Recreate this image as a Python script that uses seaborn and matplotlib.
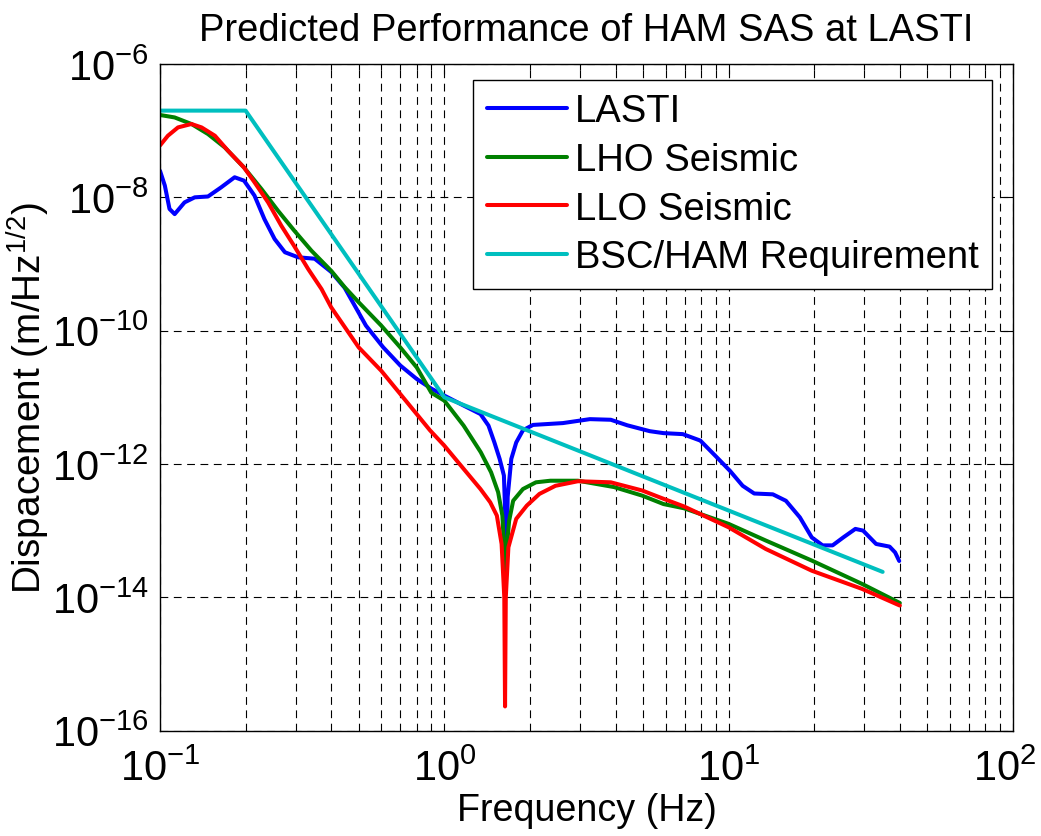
import matplotlib
matplotlib.use("Agg")
import matplotlib.pyplot as plt
from matplotlib import font_manager
from matplotlib.ticker import LogLocator, NullLocator, NullFormatter, FixedLocator
from matplotlib.transforms import ScaledTranslation
import seaborn as sns
import pandas as pd

# ---------------- data ----------------
lasti_f = [0.1, 0.104, 0.108, 0.1126, 0.122, 0.1325, 0.1475, 0.164, 0.183, 0.1975,
           0.215, 0.233, 0.253, 0.275, 0.306, 0.35, 0.4, 0.446, 0.53, 0.61, 0.7, 0.8,
           0.9, 1.0, 1.17, 1.34, 1.43, 1.5, 1.565, 1.62, 1.645, 1.65, 1.655, 1.66, 1.67,
           1.72, 1.79, 1.89, 2.05, 2.61, 3.25, 3.85, 4.4, 5.28, 5.9, 6.9, 7.95, 9.08,
           10.1, 11.2, 12.3, 14.3, 15.9, 17.8, 19.6, 21.4, 23.2, 25.3, 27.9, 29.7, 33,
           36.8, 38.5, 39.8]
lasti_d = [2.5e-8, 1.5e-8, 6.7e-9, 5.6e-9, 8.4e-9, 1.0e-8, 1.03e-8, 1.41e-8, 2.0e-8, 1.78e-8,
           1.06e-8, 4.7e-9, 2.37e-9, 1.5e-9, 1.26e-9, 1.2e-9, 7.6e-10, 4.4e-10, 1.19e-10, 5.6e-11,
           3.0e-11, 1.88e-11, 1.35e-11, 1.06e-11, 7.5e-12, 5.6e-12, 3.76e-12, 2.1e-12, 1.19e-12,
           6.7e-13, 1.0e-13, 4.5e-14, 2.5e-13, 5.0e-14, 3.2e-13, 1.19e-12, 2.1e-12, 3.2e-12,
           3.85e-12, 4.1e-12, 4.7e-12, 4.6e-12, 3.8e-12, 3.1e-12, 2.9e-12, 2.8e-12, 2.24e-12,
           1.26e-12, 7.9e-13, 4.7e-13, 3.6e-13, 3.5e-13, 2.8e-13, 1.58e-13, 7.9e-14, 6.0e-14,
           6.0e-14, 7.9e-14, 1.06e-13, 1.0e-13, 6.3e-14, 5.75e-14, 4.7e-14, 3.5e-14]

lho_f = [0.1, 0.1126, 0.129, 0.1475, 0.169, 0.1975, 0.2275, 0.26, 0.296, 0.341, 0.4, 0.446,
         0.5, 0.6, 0.7, 0.8, 0.9, 1.0, 1.169, 1.343, 1.46, 1.546, 1.6, 1.625, 1.64, 1.655,
         1.69, 1.746, 1.89, 2.1, 2.36, 2.95, 3.95, 4.96, 5.9, 6.97, 10, 13.5, 19.6, 29.5, 40]
lho_d = [1.72e-7, 1.58e-7, 1.26e-7, 8.9e-8, 5.6e-8, 2.8e-8, 1.33e-8, 6.3e-9, 3.2e-9, 1.58e-9,
         7.9e-10, 4.5e-10, 2.66e-10, 1.19e-10, 5.6e-11, 2.8e-11, 1.17e-11, 8.9e-12, 3.76e-12,
         1.5e-12, 7.5e-13, 3.76e-13, 1.68e-13, 5.0e-14, 1.26e-14, 5.0e-14, 1.4e-13, 2.8e-13,
         4.2e-13, 5.3e-13, 5.6e-13, 5.6e-13, 4.5e-13, 3.35e-13, 2.5e-13, 2.16e-13, 1.26e-13,
         7.1e-14, 3.55e-14, 1.58e-14, 8.2e-15]

llo_f = [0.1, 0.1066, 0.1157, 0.129, 0.14, 0.156, 0.1735, 0.1975, 0.215, 0.24, 0.267, 0.296,
         0.332, 0.37, 0.4, 0.5, 0.6, 0.7, 0.89, 1.0, 1.17, 1.34, 1.45, 1.53, 1.59, 1.625,
         1.635, 1.645, 1.68, 1.79, 1.95, 2.16, 2.46, 2.95, 3.85, 4.96, 5.9, 6.97, 10, 13.5,
         19.6, 29.5, 40]
llo_d = [6.0e-8, 8.4e-8, 1.12e-7, 1.26e-7, 1.12e-7, 8.4e-8, 5.0e-8, 2.8e-8, 1.68e-8, 8.4e-9,
         3.76e-9, 1.88e-9, 8.4e-10, 4.2e-10, 2.24e-10, 5.6e-11, 2.5e-11, 1.12e-11, 3.2e-12,
         1.88e-12, 8.4e-13, 4.2e-13, 2.66e-13, 1.68e-13, 6.3e-14, 1.0e-14, 2.3e-16, 1.0e-14,
         5.6e-14, 1.5e-13, 2.37e-13, 3.55e-13, 4.7e-13, 5.5e-13, 5.3e-13, 4.0e-13, 3.0e-13,
         2.3e-13, 1.12e-13, 5.3e-14, 2.5e-14, 1.33e-14, 7.5e-15]

req_f = [0.1, 0.2, 1.0, 34.8]
req_d = [2e-7, 2e-7, 1e-11, 2.4e-14]

series_names = ["LASTI", "LHO Seismic", "LLO Seismic", "BSC/HAM Requirement"]
series_colors = ["#0000ff", "#008000", "#ff0000", "#00bfbf"]

x_ticks = [0.1, 1, 10, 100]
y_ticks = [1e-16, 1e-14, 1e-12, 1e-10, 1e-8, 1e-6]

title_text = "Predicted Performance of HAM SAS at LASTI"
x_label = "Frequency (Hz)"
y_label = r"Dispacement (m/Hz$^{1/2}$)"

# ---------------- build table ----------------
frames = []
for name, f, d in zip(series_names,
                      [lasti_f, lho_f, llo_f, req_f],
                      [lasti_d, lho_d, llo_d, req_d]):
    frames.append(pd.DataFrame({"freq": f, "disp": d, "series": name}))
df = pd.concat(frames, ignore_index=True)


def has_font(name):
    try:
        font_manager.findfont(font_manager.FontProperties(family=name),
                              fallback_to_default=False)
        return True
    except Exception:
        return False


NARROW = has_font("Liberation Sans Narrow")
narrow_fam = (["Liberation Sans Narrow", "Liberation Sans", "DejaVu Sans"]
              if NARROW else ["Liberation Sans", "DejaVu Sans"])
k = 1.0 if NARROW else 0.82

# ---------------- style ----------------
sns.set_style("white")
plt.rcParams["font.family"] = narrow_fam
plt.rcParams["mathtext.fontset"] = "custom"
plt.rcParams["mathtext.rm"] = narrow_fam[0]
plt.rcParams["mathtext.it"] = narrow_fam[0] + ":italic"
plt.rcParams["mathtext.bf"] = narrow_fam[0] + ":bold"
plt.rcParams["axes.unicode_minus"] = False
for key in ["text.color", "axes.labelcolor", "xtick.color", "ytick.color"]:
    plt.rcParams[key] = "black"

fig = plt.figure(figsize=(10.41, 8.37), dpi=100)
ax = fig.add_axes([0.1537, 0.126, 0.9731 - 0.1537, 0.9223 - 0.126])

sns.lineplot(data=df, x="freq", y="disp", hue="series", hue_order=series_names,
             palette=dict(zip(series_names, series_colors)), estimator=None,
             sort=True, linewidth=2.9, ax=ax)

ax.set_xscale("log")
ax.set_yscale("log")
ax.set_xlim(0.1, 100)
ax.set_ylim(1e-16, 1e-6)

ax.xaxis.set_major_locator(FixedLocator(x_ticks))
ax.xaxis.set_minor_locator(LogLocator(base=10, subs=[2, 3, 4, 5, 6, 7, 8, 9], numticks=20))
ax.xaxis.set_minor_formatter(NullFormatter())
ax.yaxis.set_major_locator(FixedLocator(y_ticks))
ax.yaxis.set_minor_locator(NullLocator())

dash = (0, (7, 5))
ax.grid(True, which="major", axis="both", color="black", linestyle=dash, linewidth=0.8)
ax.grid(True, which="minor", axis="x", color="black", linestyle=dash, linewidth=0.8)

tick_size = 36.5 * k
ax.tick_params(which="both", direction="in", top=True, right=True, color="black")
ax.tick_params(which="major", length=7, width=0.8, labelsize=tick_size)
ax.tick_params(axis="x", which="major", pad=13)
ax.tick_params(axis="y", which="major", pad=8)
ax.tick_params(which="minor", length=4, width=0.8)
for s in ax.spines.values():
    s.set_color("black")
    s.set_linewidth(1.0)

ax.set_title(title_text, fontsize=33.5 * k, pad=17)
ax.set_xlabel(x_label, fontsize=33 * k, labelpad=2)
ax.set_ylabel(y_label, fontsize=34 * k, labelpad=0)

leg = ax.legend(loc="upper right", bbox_to_anchor=(0.975, 0.976),
                prop={"family": ["Liberation Sans", "DejaVu Sans"], "size": 27.5},
                frameon=True, fancybox=False, edgecolor="black", framealpha=1,
                handlelength=2.1, handletextpad=0.2, labelspacing=0.33,
                borderpad=0.35, borderaxespad=0)
leg.get_frame().set_linewidth(1.0)
for line in leg.get_lines():
    line.set_linewidth(2.9)

# keep the last x tick label inside the figure
fig.canvas.draw()
xlabels = ax.get_xticklabels()
if xlabels:
    xlabels[-1].set_transform(xlabels[-1].get_transform() +
                              ScaledTranslation(-6 / 72, 0, fig.dpi_scale_trans))

fig.savefig("out.png", dpi=100)
